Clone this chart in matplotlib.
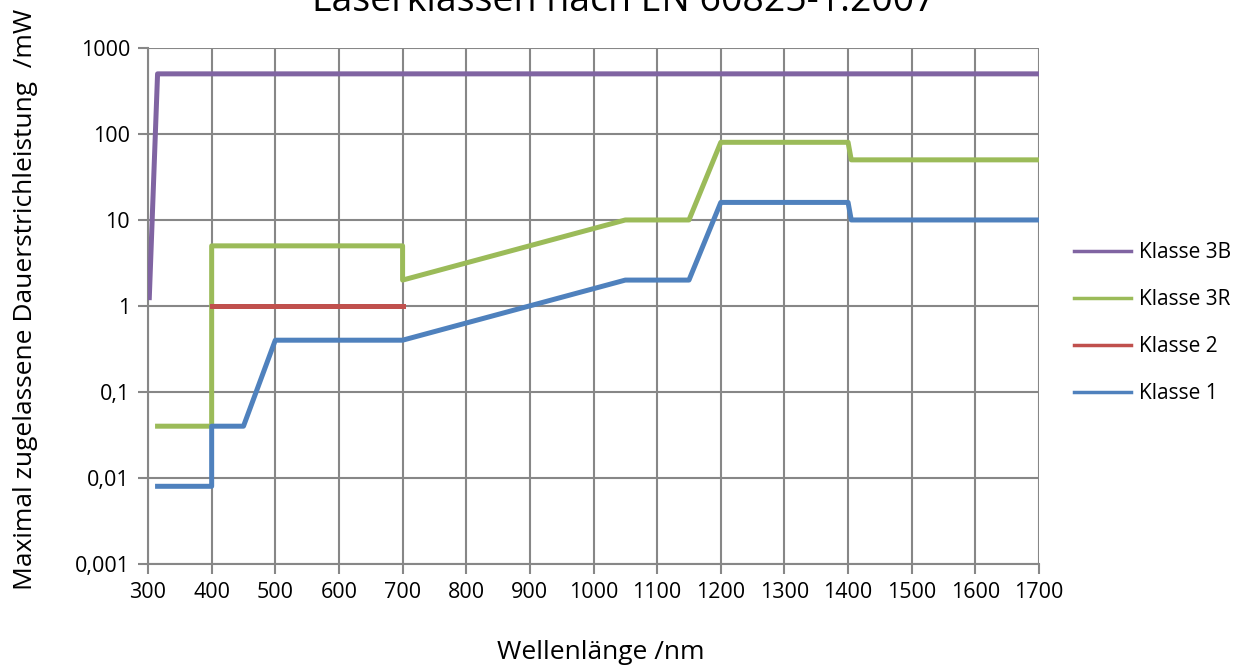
import matplotlib
matplotlib.use("Agg")
import matplotlib.pyplot as plt
from matplotlib.ticker import FixedLocator, FixedFormatter, NullLocator

plt.rcParams['font.family'] = ['Open Sans', 'DejaVu Sans']

# data (wavelength nm, power mW)
k3b_x = [302, 315, 1700]
k3b_y = [1.25, 500, 500]

k3r_x = [315, 400, 400, 700, 700, 1050, 1150, 1200, 1400, 1405, 1700]
k3r_y = [0.04, 0.04, 5, 5, 2, 10, 10, 80, 80, 50, 50]

k2_x = [400, 700]
k2_y = [1, 1]

k1_x = [315, 400, 400, 450, 500, 700, 1050, 1150, 1200, 1400, 1405, 1700]
k1_y = [0.008, 0.008, 0.04, 0.04, 0.4, 0.4, 2, 2, 16, 16, 10, 10]

y_ticks = [0.001, 0.01, 0.1, 1, 10, 100, 1000]
y_labels = ['0,001', '0,01', '0,1', '1', '10', '100', '1000']
x_ticks = list(range(300, 1701, 100))

fig = plt.figure(figsize=(12.47, 6.69), dpi=100)
ax = fig.add_axes([0.1187, 0.157, 0.7145, 0.7713])

lw = 3.6
ax.plot(k3b_x, k3b_y, color='#8064A2', lw=lw, label='Klasse 3B', zorder=3)
ax.plot(k3r_x, k3r_y, color='#9BBB59', lw=lw, label='Klasse 3R', zorder=3)
ax.plot(k2_x, k2_y, color='#C0504D', lw=lw, label='Klasse 2', zorder=3)
ax.plot(k1_x, k1_y, color='#4F81BD', lw=lw, label='Klasse 1', zorder=3)

ax.set_yscale('log')
ax.set_ylim(0.001, 1000)
ax.set_xlim(300, 1700)
ax.yaxis.set_major_locator(FixedLocator(y_ticks))
ax.yaxis.set_major_formatter(FixedFormatter(y_labels))
ax.yaxis.set_minor_locator(NullLocator())
ax.set_xticks(x_ticks)

ax.grid(True, color='#878787', lw=1.5, zorder=0)
ax.set_axisbelow(True)
for side in ['top', 'right']:
    ax.spines[side].set_visible(False)
for side in ['left', 'bottom']:
    ax.spines[side].set_color('#878787')
    ax.spines[side].set_linewidth(1.5)
ax.tick_params(axis='both', length=7, width=1.5, color='#878787', pad=6,
               labelsize=15.5, colors='#878787', labelcolor='black')

ax.set_xlabel('Wellenlänge /nm', fontsize=19)
ax.xaxis.set_label_coords(0.508, -0.171)
ax.xaxis.label.set_va('center')
ax.set_ylabel('Maximal zugelassene Dauerstrichleistung  /mW', fontsize=19)
ax.yaxis.set_label_coords(-0.138, 0.512)
ax.yaxis.label.set_va('center')

fig.text(0.5, 1 - 11 / 669, 'Laserklassen nach EN 60825-1:2007', ha='center',
         va='baseline', fontsize=27)

leg = ax.legend(loc='center left', bbox_to_anchor=(1.018, 0.467), frameon=False,
                fontsize=15, handlelength=2.74, labelspacing=1.25, handletextpad=0.4)
for line in leg.get_lines():
    line.set_linewidth(2.5)

fig.savefig('out.png', dpi=100)
